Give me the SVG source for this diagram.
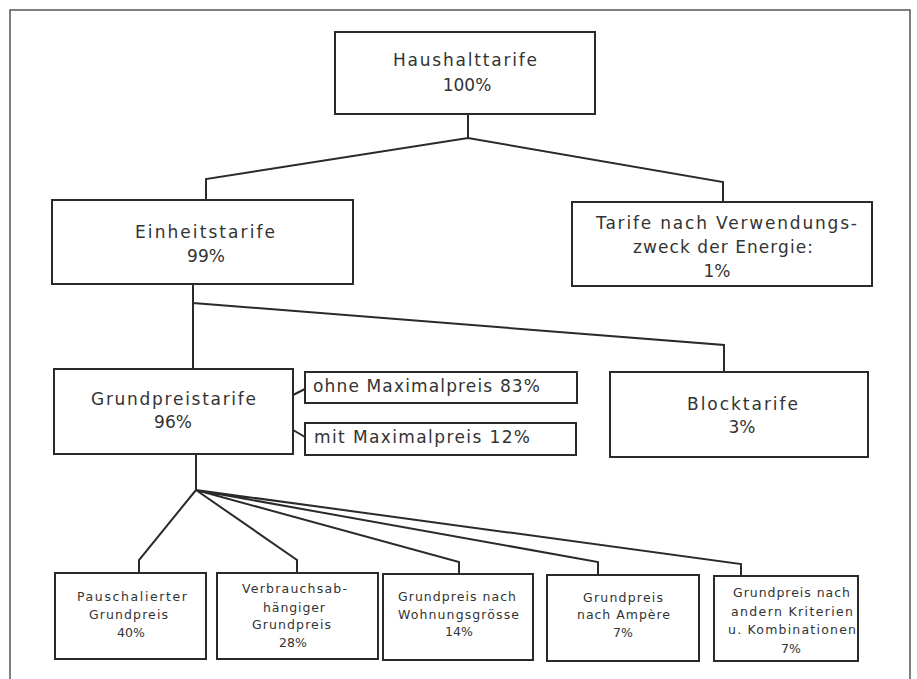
<svg xmlns="http://www.w3.org/2000/svg" width="917" height="679" viewBox="0 0 917 679">
<style>
.frame{fill:none;stroke:#555;stroke-width:1.5}
.box{fill:#fff;stroke:#2a2a2a;stroke-width:2}
.con{fill:none;stroke:#2a2a2a;stroke-width:2;stroke-linejoin:miter}
text{font-family:"DejaVu Sans","Liberation Sans",sans-serif;fill:#333}
.t{font-size:17px}
.s{font-size:12.5px}
.m{text-anchor:middle}
</style>
<rect width="917" height="679" fill="#fff"/>
<rect class="frame" x="10" y="10" width="900" height="690"/>
<g id="connectors">
<path class="con" d="M468 114 V138 M206 200 V179 L468 138 L723 182 V202"/>
<path class="con" d="M193 284 V369 M193 303 L724 345 V372"/>
<path class="con" d="M293 395 L305 389 M293 430 L305 437"/>
<path class="con" d="M196 454 V490 M196 490 L139 560 V573 M196 490 L297 560 V573 M196 490 L459 562 V574 M196 490 L598 562 V575 M196 490 L741 564 V576"/>
</g>
<g id="haushalttarife">
<rect class="box" x="335" y="32" width="260" height="82"/>
<text class="t" x="393" y="66" textLength="144" lengthAdjust="spacing">Haushalttarife</text>
<text class="t m" x="467" y="91">100%</text>
</g>
<g id="einheitstarife">
<rect class="box" x="52" y="200" width="301" height="84"/>
<text class="t" x="135" y="238" textLength="140" lengthAdjust="spacing">Einheitstarife</text>
<text class="t m" x="206" y="262">99%</text>
</g>
<g id="verwendungszweck">
<rect class="box" x="572" y="202" width="300" height="84"/>
<text class="t" x="596" y="229" textLength="261" lengthAdjust="spacing">Tarife nach Verwendungs-</text>
<text class="t" x="633" y="253" textLength="180" lengthAdjust="spacing">zweck der Energie:</text>
<text class="t m" x="717" y="277">1%</text>
</g>
<g id="grundpreistarife">
<rect class="box" x="54" y="369" width="239" height="85"/>
<text class="t" x="91" y="405" textLength="165" lengthAdjust="spacing">Grundpreistarife</text>
<text class="t m" x="173" y="428">96%</text>
</g>
<g id="ohne-maximalpreis">
<rect class="box" x="305" y="372" width="272" height="31"/>
<text class="t" x="313" y="392" textLength="227" lengthAdjust="spacing">ohne Maximalpreis 83%</text>
</g>
<g id="mit-maximalpreis">
<rect class="box" x="305" y="423" width="271" height="32"/>
<text class="t" x="314" y="443" textLength="216" lengthAdjust="spacing">mit Maximalpreis 12%</text>
</g>
<g id="blocktarife">
<rect class="box" x="610" y="372" width="258" height="85"/>
<text class="t" x="687" y="410" textLength="111" lengthAdjust="spacing">Blocktarife</text>
<text class="t m" x="742" y="433">3%</text>
</g>
<g id="pauschaliert">
<rect class="box" x="55" y="573" width="151" height="86"/>
<text class="s" x="77" y="601" textLength="110" lengthAdjust="spacing">Pauschalierter</text>
<text class="s" x="89" y="619" textLength="79" lengthAdjust="spacing">Grundpreis</text>
<text class="s m" x="131" y="637">40%</text>
</g>
<g id="verbrauchsabhaengig">
<rect class="box" x="217" y="573" width="161" height="86"/>
<text class="s" x="242" y="593" textLength="105" lengthAdjust="spacing">Verbrauchsab-</text>
<text class="s" x="263" y="612" textLength="62" lengthAdjust="spacing">hängiger</text>
<text class="s" x="252" y="629" textLength="79" lengthAdjust="spacing">Grundpreis</text>
<text class="s m" x="293" y="647">28%</text>
</g>
<g id="wohnungsgroesse">
<rect class="box" x="383" y="574" width="150" height="86"/>
<text class="s" x="398" y="601" textLength="118" lengthAdjust="spacing">Grundpreis nach</text>
<text class="s" x="398" y="619" textLength="121" lengthAdjust="spacing">Wohnungsgrösse</text>
<text class="s m" x="459" y="636">14%</text>
</g>
<g id="ampere">
<rect class="box" x="547" y="575" width="152" height="86"/>
<text class="s" x="583" y="602" textLength="80" lengthAdjust="spacing">Grundpreis</text>
<text class="s" x="577" y="619" textLength="93" lengthAdjust="spacing">nach Ampère</text>
<text class="s m" x="623" y="637">7%</text>
</g>
<g id="andere-kriterien">
<rect class="box" x="714" y="576" width="144" height="85"/>
<text class="s" x="733" y="597" textLength="117" lengthAdjust="spacing">Grundpreis nach</text>
<text class="s" x="731" y="616" textLength="122" lengthAdjust="spacing">andern Kriterien</text>
<text class="s" x="728" y="634" textLength="128" lengthAdjust="spacing">u. Kombinationen</text>
<text class="s m" x="791" y="653">7%</text>
</g>
</svg>
